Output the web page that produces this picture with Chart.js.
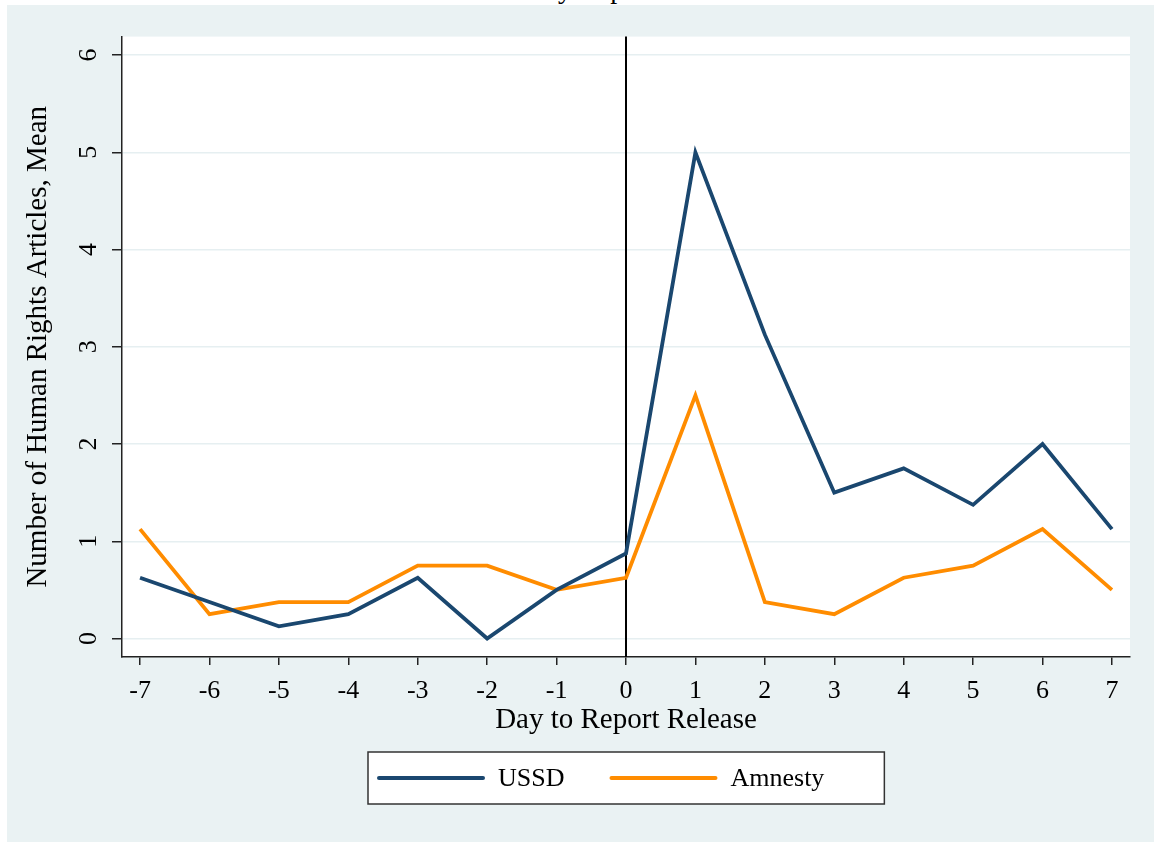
<!DOCTYPE html>
<html lang="en">
<head>
<meta charset="utf-8">
<title>Human Rights Articles around Report Release</title>
<script src="https://cdn.jsdelivr.net/npm/chart.js@4.4.1/dist/chart.umd.min.js"></script>
<style>
  body { margin: 0; background: #fff; width: 1154px; height: 842px; overflow: hidden; position: relative; }
  #toptitle { position: absolute; left: 450px; top: -25px; font: 28px "Liberation Serif", serif; line-height: 28px; color: #000; white-space: nowrap; }
  #frame { position: absolute; left: 7px; top: 5px; width: 1147px; height: 837px; background: #eaf2f3; }
  canvas { display: block; }
</style>
</head>
<body>
<div id="toptitle">of Country Reports</div>
<div id="frame"><canvas id="chart" width="1147" height="837"></canvas></div>
<script>
// days relative to the report release
const days = [-7, -6, -5, -4, -3, -2, -1, 0, 1, 2, 3, 4, 5, 6, 7];
const ussd = [0.625, 0.375, 0.125, 0.25, 0.625, 0, 0.5, 0.875, 5, 3.125, 1.5, 1.75, 1.375, 2, 1.125];
const amnesty = [1.125, 0.25, 0.375, 0.375, 0.75, 0.75, 0.5, 0.625, 2.5, 0.375, 0.25, 0.625, 0.75, 1.125, 0.5];
const xTicks = [-7, -6, -5, -4, -3, -2, -1, 0, 1, 2, 3, 4, 5, 6, 7];
const yTicks = [0, 1, 2, 3, 4, 5, 6];
const releaseDay = 0;

const serif = '"Liberation Serif", "Times New Roman", serif';

// white plot region + the black line at release day
const plotBits = {
  id: 'plotBits',
  beforeDraw(chart) {
    const a = chart.chartArea, ctx = chart.ctx;
    ctx.save();
    ctx.fillStyle = '#fff';
    ctx.fillRect(a.left, a.top, a.right - a.left, a.bottom - a.top);
    ctx.restore();
  },
  beforeDatasetsDraw(chart) {
    const a = chart.chartArea, ctx = chart.ctx;
    const x = chart.scales.x.getPixelForValue(releaseDay);
    ctx.save();
    ctx.strokeStyle = '#000';
    ctx.lineWidth = 2;
    ctx.beginPath();
    ctx.moveTo(x, a.top);
    ctx.lineTo(x, a.bottom);
    ctx.stroke();
    ctx.restore();
  }
};

// boxed legend under the x axis title
const boxLegend = {
  id: 'boxLegend',
  afterDraw(chart) {
    const ctx = chart.ctx, a = chart.chartArea;
    ctx.save();
    ctx.font = '26px ' + serif;
    const items = chart.data.datasets.map(d => ({ label: d.label, color: d.borderColor, w: ctx.measureText(d.label).width }));
    const lineLen = 104, gapText = 15, gapItem = 47, padL = 11, padR = 60;
    let total = padL + padR;
    items.forEach((it, i) => { total += lineLen + gapText + it.w + (i > 0 ? gapItem : 0); });
    const left = Math.round((a.left + a.right) / 2 - total / 2);
    const top = a.bottom + 95, h = 52;
    ctx.fillStyle = '#fff';
    ctx.fillRect(left, top, total, h);
    ctx.strokeStyle = '#333';
    ctx.lineWidth = 1.5;
    ctx.strokeRect(left, top, total, h);
    let x = left + padL;
    const cy = top + h / 2;
    items.forEach((it, i) => {
      if (i > 0) x += gapItem;
      ctx.strokeStyle = it.color;
      ctx.lineWidth = 4;
      ctx.lineCap = 'round';
      ctx.beginPath();
      ctx.moveTo(x, cy);
      ctx.lineTo(x + lineLen, cy);
      ctx.stroke();
      x += lineLen + gapText;
      ctx.fillStyle = '#000';
      ctx.textBaseline = 'middle';
      ctx.textAlign = 'left';
      ctx.fillText(it.label, x, cy + 1);
      x += it.w;
    });
    ctx.restore();
  }
};

new Chart(document.getElementById('chart'), {
  type: 'line',
  data: {
    labels: days,
    datasets: [
      { label: 'USSD', data: days.map((d, i) => ({ x: d, y: ussd[i] })), borderColor: '#1a476f', borderWidth: 3.8, pointRadius: 0, tension: 0, fill: false },
      { label: 'Amnesty', data: days.map((d, i) => ({ x: d, y: amnesty[i] })), borderColor: '#ff8c00', borderWidth: 3.8, pointRadius: 0, tension: 0, fill: false }
    ]
  },
  options: {
    responsive: false,
    animation: false,
    layout: { padding: { top: 30, right: 24, left: 0, bottom: 103 } },
    plugins: { legend: { display: false }, tooltip: { enabled: false } },
    scales: {
      x: {
        type: 'linear',
        min: -7.26,
        max: 7.26,
        afterBuildTicks: s => { s.ticks = xTicks.map(v => ({ value: v })); },
        afterFit: s => { s.height = 82; },
        border: { color: '#222', width: 1.5 },
        grid: { drawOnChartArea: false, tickColor: '#222', tickLength: 8, lineWidth: 1.5 },
        ticks: { color: '#000', font: { family: serif, size: 26 }, padding: 11, maxRotation: 0, autoSkip: false },
        title: { display: true, text: 'Day to Report Release', color: '#000', font: { family: serif, size: 29 }, padding: { top: 0, bottom: 1 } }
      },
      y: {
        min: -0.19,
        max: 6.19,
        afterBuildTicks: s => { s.ticks = yTicks.map(v => ({ value: v })); },
        afterFit: s => { s.width = 115; },
        border: { color: '#222', width: 1.5 },
        grid: { color: '#e6eff1', lineWidth: 1.5, tickColor: '#222', tickLength: 10 },
        ticks: { color: '#000', font: { family: serif, size: 26 }, padding: 16, minRotation: 90, maxRotation: 90, crossAlign: 'center', autoSkip: false },
        title: { display: true, text: 'Number of Human Rights Articles, Mean', color: '#000', font: { family: serif, size: 29 }, padding: { top: 14, bottom: 0 } }
      }
    }
  },
  plugins: [plotBits, boxLegend]
});
</script>
</body>
</html>
